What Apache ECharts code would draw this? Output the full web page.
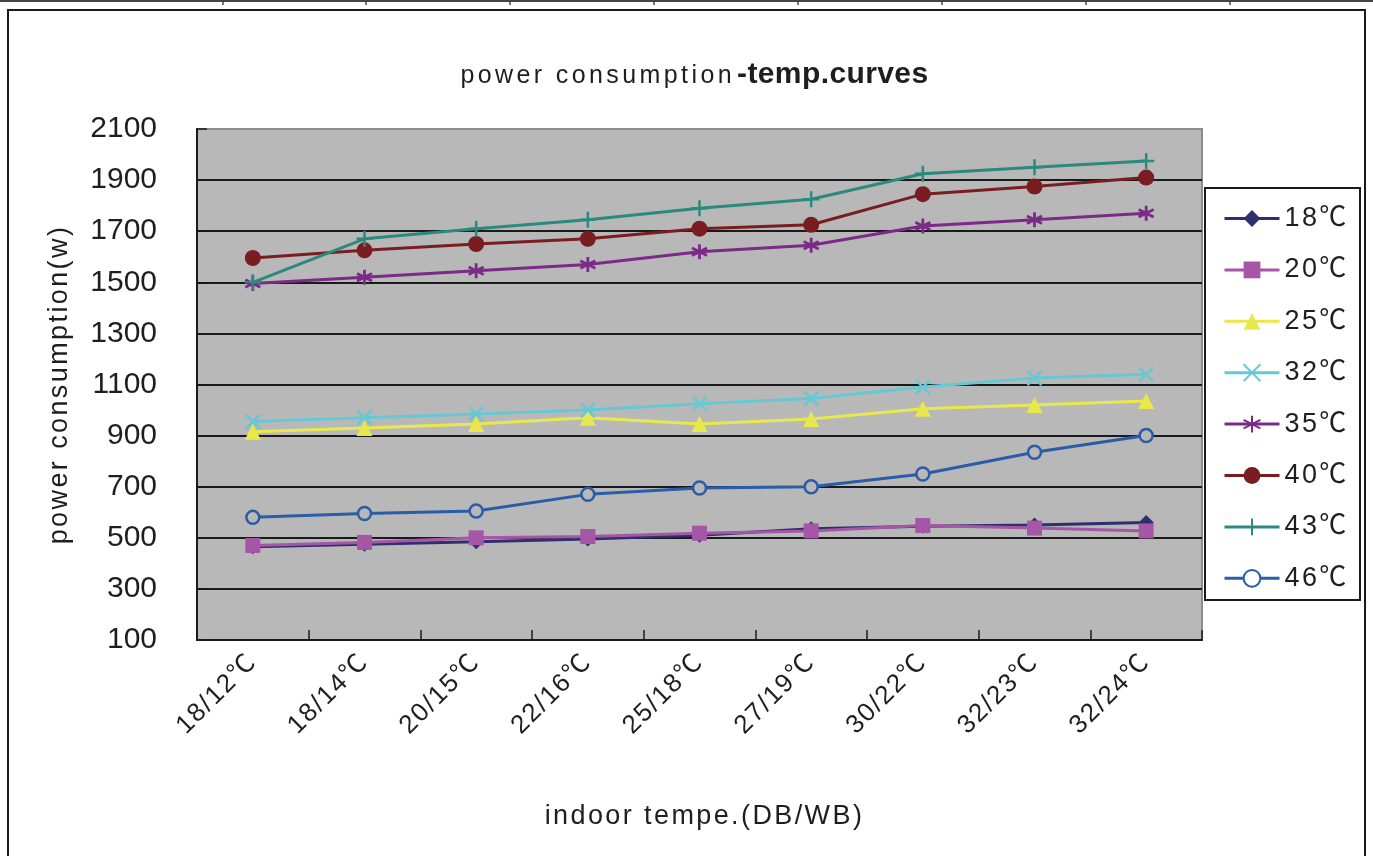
<!DOCTYPE html>
<html>
<head>
<meta charset="utf-8">
<script src="https://cdn.jsdelivr.net/npm/echarts@6/dist/echarts.min.js"></script>
<style>
  html, body { margin: 0; padding: 0; background: #fff; }
  #chart { width: 1373px; height: 856px; }
</style>
</head>
<body>
<div id="chart"></div>
<script>
// Indoor conditions (dry bulb / wet bulb)
const categories = ['18/12℃', '18/14℃', '20/15℃', '22/16℃', '25/18℃', '27/19℃', '30/22℃', '32/23℃', '32/24℃'];

// Outdoor temperature series names
const seriesNames = ['18℃', '20℃', '25℃', '32℃', '35℃', '40℃', '43℃', '46℃'];

// Power consumption (W) per outdoor temperature
const t18 = [465, 475, 485, 495, 510, 535, 545, 550, 560];
const t20 = [470, 482, 500, 505, 518, 527, 548, 538, 527];
const t25 = [915, 930, 945, 970, 945, 965, 1005, 1020, 1035];
const t32 = [955, 970, 985, 1000, 1025, 1045, 1090, 1125, 1140];
const t35 = [1495, 1520, 1545, 1570, 1620, 1645, 1720, 1745, 1770];
const t40 = [1595, 1625, 1650, 1670, 1710, 1725, 1845, 1875, 1910];
const t43 = [1500, 1670, 1710, 1745, 1790, 1825, 1925, 1950, 1975];
const t46 = [580, 595, 605, 670, 695, 700, 750, 835, 900];

// Value axis range
const yMin = 100;
const yMax = 2100;
const yStep = 200;

const seriesData = [t18, t20, t25, t32, t35, t40, t43, t46];

const FONT = "'Liberation Sans', Arial, 'Noto Sans CJK SC', sans-serif";
const TEXT = '#1e1e1e';
const PLOT_BG = '#b8b8b8';

// Extra tracking between glyphs, keyed by "<px size><b if bold>"
const TRACKING = { '25': '3.4px', '30b': '0.4px', '27': '2.4px', '26': '1.8px' };
(function () {
  const proto = CanvasRenderingContext2D.prototype;
  const baseFill = proto.fillText;
  proto.fillText = function (txt, x, y, maxW) {
    const f = this.font || '';
    const m = /(\d+(?:\.\d+)?)px/.exec(f);
    const key = (m ? m[1] : '') + (/bold|[6-9]00/.test(f) ? 'b' : '');
    this.letterSpacing = TRACKING[key] || '0px';
    return maxW === undefined ? baseFill.call(this, txt, x, y) : baseFill.call(this, txt, x, y, maxW);
  };
})();

// Marker look for each series
const looks = [
  { color: '#2d2f6e', symbol: 'diamond', size: 15, stroke: 0 },
  { color: '#a656a6', symbol: 'rect', size: 15, stroke: 0 },
  { color: '#e8e84c', symbol: 'triangle', size: 16, stroke: 0 },
  { color: '#66c8d4', symbol: 'path://M0,0L10,10M10,0L0,10', size: 14, stroke: 2.5 },
  { color: '#7c2a88', symbol: 'path://M5,0L5,10M0.7,2.5L9.3,7.5M0.7,7.5L9.3,2.5', size: 15, stroke: 2.8 },
  { color: '#7a1d20', symbol: 'circle', size: 16, stroke: 0 },
  { color: '#2a8a80', symbol: 'path://M5,0L5,10M0,5L10,5', size: 16, stroke: 2.5 },
  { color: '#2a5ca8', symbol: 'circle', size: 13, stroke: 2.5, hollow: true }
];

const series = seriesNames.map((name, i) => {
  const lk = looks[i];
  return {
    name: name,
    type: 'line',
    data: seriesData[i],
    symbol: lk.symbol,
    symbolSize: lk.size,
    showAllSymbol: true,
    lineStyle: { width: 3, color: lk.color },
    itemStyle: {
      color: lk.hollow ? PLOT_BG : lk.color,
      borderColor: lk.color,
      borderWidth: lk.stroke
    },
    emphasis: { disabled: true },
    z: 3 + i
  };
});

// Small marks along the top strip of the sheet
const topTicks = [223, 366, 510, 654, 798, 942, 1086, 1230].map(x => ({
  type: 'line',
  shape: { x1: x, y1: 0, x2: x, y2: 5 },
  style: { stroke: '#444', lineWidth: 1.5 },
  silent: true
}));

const chart = echarts.init(document.getElementById('chart'), null, { renderer: 'canvas' });

chart.setOption({
  animation: false,
  backgroundColor: '#fff',
  textStyle: { fontFamily: FONT, color: TEXT },
  grid: {
    left: 197,
    top: 129,
    right: 171,
    bottom: 216,
    show: true,
    backgroundColor: PLOT_BG,
    borderColor: '#8c8c8c',
    borderWidth: 2
  },
  legend: {
    orient: 'vertical',
    left: 1205,
    top: 188,
    padding: [17, 12, 13, 18],
    itemWidth: 55,
    itemHeight: 21,
    itemGap: 24.4,
    lineStyle: { width: 3 },
    data: seriesNames.map((n, i) => looks[i].hollow ? { name: n, itemStyle: { color: '#fff' } } : n),
    textStyle: { fontFamily: FONT, fontSize: 27, color: TEXT },
    selectedMode: false
  },
  xAxis: {
    type: 'category',
    data: categories,
    boundaryGap: true,
    name: 'indoor tempe.(DB/WB)',
    nameLocation: 'middle',
    nameGap: 163,
    nameTextStyle: { fontFamily: FONT, fontSize: 27, color: TEXT, padding: [0, 0, 0, 10] },
    axisLine: { lineStyle: { color: '#1a1a1a', width: 2 } },
    axisTick: { show: true, inside: true, length: 10, lineStyle: { color: '#1a1a1a', width: 1.5 } },
    axisLabel: { rotate: 45, margin: 18, fontFamily: FONT, fontSize: 26, color: TEXT },
    splitLine: { show: false }
  },
  yAxis: {
    type: 'value',
    min: yMin,
    max: yMax,
    interval: yStep,
    name: 'power consumption(w)',
    nameLocation: 'middle',
    nameRotate: 90,
    nameGap: 124,
    nameTextStyle: { fontFamily: FONT, fontSize: 27, color: TEXT },
    axisLine: { show: true, lineStyle: { color: '#1a1a1a', width: 2 } },
    axisTick: { show: true, inside: true, length: 10, lineStyle: { color: '#1a1a1a', width: 1.5 } },
    axisLabel: { margin: 40, fontFamily: FONT, fontSize: 30, color: TEXT, formatter: v => String(v) },
    splitLine: {
      show: true,
      showMaxLine: false,
      lineStyle: { color: '#1a1a1a', width: 2 }
    }
  },
  graphic: [
    // outer frame of the sheet
    {
      type: 'rect',
      shape: { x: 8, y: 10, width: 1357, height: 900 },
      style: { fill: null, stroke: '#1a1a1a', lineWidth: 2 },
      silent: true, z: -1
    },
    // top strip line
    {
      type: 'line',
      shape: { x1: 0, y1: 1, x2: 1373, y2: 1 },
      style: { stroke: '#444', lineWidth: 2 },
      silent: true
    },
    ...topTicks,
    // chart title: plain part and bold part
    {
      type: 'text',
      style: {
        x: 735, y: 76, text: 'power consumption',
        align: 'right', verticalAlign: 'middle',
        font: "25px 'Liberation Sans', Arial, sans-serif", fill: TEXT
      },
      silent: true
    },
    {
      type: 'text',
      style: {
        x: 737, y: 75, text: '-temp.curves',
        align: 'left', verticalAlign: 'middle',
        font: "bold 30px 'Liberation Sans', Arial, sans-serif", fill: TEXT
      },
      silent: true
    },
    // legend frame
    {
      type: 'rect',
      shape: { x: 1205, y: 188, width: 155, height: 412 },
      style: { fill: '#fff', stroke: '#1a1a1a', lineWidth: 2 },
      silent: true, z: 0
    }
  ],
  series: series
});
</script>
</body>
</html>
